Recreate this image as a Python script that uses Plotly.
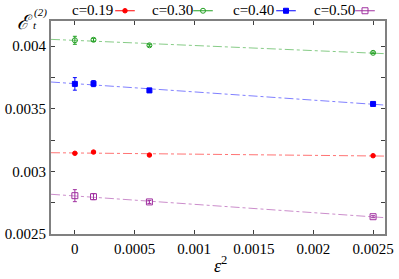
import numpy as np
import plotly.graph_objects as go

# ---- data ----
eps2 = [0.0, 0.00015625, 0.000625, 0.0025]
labels = ["c=0.19", "c=0.30", "c=0.40", "c=0.50"]
y_c019 = [0.003144, 0.003154, 0.003130, 0.003125]
e_c019 = [0.000004, 0.000004, 0.000003, 0.000003]
y_c030 = [0.004046, 0.004050, 0.004006, 0.003946]
e_c030 = [0.000032, 0.000012, 0.000008, 0.000006]
y_c040 = [0.003698, 0.003700, 0.003646, 0.003538]
e_c040 = [0.000050, 0.000024, 0.000016, 0.000008]
y_c050 = [0.002806, 0.002798, 0.002756, 0.002638]
e_c050 = [0.000048, 0.000024, 0.000012, 0.000008]

xticks = [0, 0.0005, 0.001, 0.0015, 0.002, 0.0025]
xticktext = ["0", "0.0005", "0.001", "0.0015", "0.002", "0.0025"]
yticks = [0.0025, 0.003, 0.0035, 0.004]
yticktext = ["0.0025", "0.003", "0.0035", "0.004"]

colors = ["#ff0000", "#22a022", "#0000ff", "#a030a0"]
symbols = ["circle", "circle-open", "square", "square-open"]
msizes = [4.5, 5, 5, 6]
fitcolors = ["rgba(255,0,0,0.55)", "rgba(34,160,34,0.55)", "rgba(0,0,255,0.5)", "rgba(160,48,160,0.55)"]

series = [(y_c019, e_c019), (y_c030, e_c030), (y_c040, e_c040), (y_c050, e_c050)]
xrange_ = [-0.0002, 0.0026]

FONT = "Liberation Serif, Times New Roman, Times, serif"
fig = go.Figure()

x_arr = np.array(eps2)
for i, (ys, es) in enumerate(series):
    ya = np.array(ys)
    m = x_arr > 0
    p = np.polyfit(x_arr[m], ya[m], 1)
    xf = np.array(xrange_)
    fig.add_trace(go.Scatter(x=xf, y=np.polyval(p, xf), mode="lines",
                             line=dict(color=fitcolors[i], width=1, dash="dashdot"),
                             showlegend=False, hoverinfo="skip"))

legend_names = ["legend", "legend2", "legend3", "legend4"]
legend_bars = ["legend5", "legend6", "legend7", "legend8"]
for i, (ys, es) in enumerate(series):
    fig.add_trace(go.Scatter(
        x=eps2, y=ys, mode="markers",
        marker=dict(color=colors[i], symbol=symbols[i], size=msizes[i],
                    line=dict(color=colors[i], width=1)),
        error_y=dict(type="data", array=es, color=colors[i], thickness=1, width=2),
        showlegend=False))
    # legend sample: horizontal bar + marker
    fig.add_trace(go.Scatter(
        x=[None], y=[None], mode="markers", name=" ",
        marker=dict(symbol="line-ew", size=14, line=dict(color=colors[i], width=1.2)),
        legend=legend_bars[i], showlegend=True))
    fig.add_trace(go.Scatter(
        x=[None], y=[None], mode="markers", name=" ",
        marker=dict(color=colors[i], symbol=symbols[i], size=msizes[i],
                    line=dict(color=colors[i], width=1)),
        legend=legend_names[i], showlegend=True))

W, H = 399, 279
L, R, T, B = 51, 14, 21, 45
pw, ph = W - L - R, H - T - B

def px2x(px):
    return (px - L) / pw

def py2y(py):
    return (H - B - py) / ph

sample_centers = [127, 205, 288, 367]
text_ends = [115, 195, 276, 357]
layout_legends = {}
for i in range(4):
    for ln in (legend_bars[i], legend_names[i]):
        layout_legends[ln] = dict(x=px2x(sample_centers[i] - 22), y=py2y(11), xanchor="left", yanchor="middle",
                                  bgcolor="rgba(0,0,0,0)", font=dict(family=FONT, size=15),
                                  itemwidth=30, tracegroupgap=0)

annotations = []
for i, lab in enumerate(labels):
    annotations.append(dict(text=lab, x=px2x(text_ends[i]), y=py2y(10), xref="paper", yref="paper",
                            xanchor="right", yanchor="middle", showarrow=False,
                            font=dict(family=FONT, size=15, color="black")))
annotations.append(dict(text="<i>ℰ</i>", x=px2x(25), y=py2y(22), xref="paper", yref="paper",
                        xanchor="center", yanchor="middle", showarrow=False,
                        font=dict(family=FONT, size=20, color="black")))
annotations.append(dict(text="<i>(2)</i>", x=px2x(40), y=py2y(12), xref="paper", yref="paper",
                        xanchor="center", yanchor="middle", showarrow=False,
                        font=dict(family=FONT, size=11, color="black")))
annotations.append(dict(text="<i>t</i>", x=px2x(35), y=py2y(25), xref="paper", yref="paper",
                        xanchor="center", yanchor="middle", showarrow=False,
                        font=dict(family=FONT, size=11, color="black")))
annotations.append(dict(text="<i>ε</i><sup>2</sup>", x=px2x(220), y=py2y(264), xref="paper", yref="paper",
                        xanchor="center", yanchor="middle", showarrow=False,
                        font=dict(family=FONT, size=18, color="black")))

fig.update_layout(
    width=W, height=H,
    margin=dict(l=L, r=R, t=T, b=B, autoexpand=False),
    paper_bgcolor="white", plot_bgcolor="white",
    font=dict(family=FONT, size=15, color="black"),
    annotations=annotations,
    **layout_legends,
)
fig.update_xaxes(range=xrange_, tickvals=xticks, ticktext=xticktext, automargin=False,
                 showgrid=False, zeroline=False, showline=True, linecolor="#808080", linewidth=2,
                 mirror="ticks", ticks="inside", ticklen=4, tickcolor="#404040", tickwidth=1,
                 tickfont=dict(family=FONT, size=15, color="black"))
fig.update_yaxes(range=[0.0025, 0.0042], tickvals=yticks, ticktext=yticktext, automargin=False,
                 showgrid=False, zeroline=False, showline=True, linecolor="#808080", linewidth=2,
                 mirror="ticks", ticks="inside", ticklen=4, tickcolor="#404040", tickwidth=1,
                 tickfont=dict(family=FONT, size=15, color="black"),
                 minor=dict(dtick=0.00025, tick0=0.0025, ticks="inside", ticklen=4, tickcolor="#404040"))

fig.write_html("out.html", config={"displayModeBar": False},
               post_script="document.body.style.margin='0';document.body.style.overflow='hidden';")
